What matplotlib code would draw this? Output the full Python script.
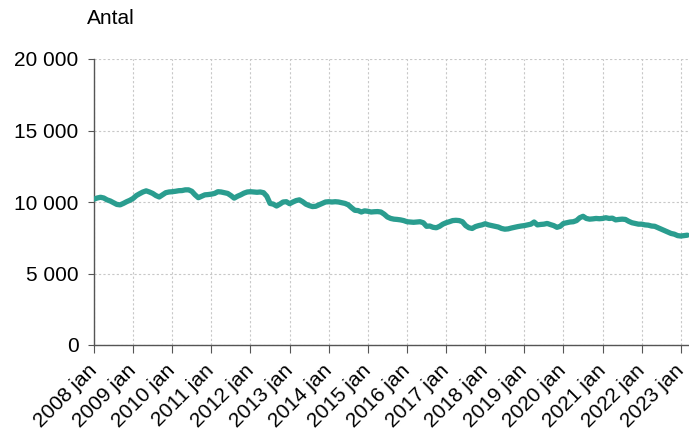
import matplotlib
matplotlib.use("Agg")
import matplotlib.pyplot as plt
import numpy as np

plt.rcParams['font.family'] = ['Liberation Sans', 'DejaVu Sans']

values = [
    10200, 10280, 10330, 10280, 10150, 10070, 9950, 9830, 9800, 9900, 10020, 10120,   # 2008
    10250, 10450, 10580, 10700, 10780, 10700, 10600, 10450, 10350, 10500, 10650, 10700,  # 2009
    10720, 10750, 10790, 10800, 10850, 10850, 10750, 10500, 10300, 10400, 10500, 10520,  # 2010
    10550, 10600, 10720, 10700, 10650, 10600, 10450, 10270, 10400, 10500, 10620, 10700,  # 2011
    10720, 10700, 10680, 10700, 10650, 10400, 9900, 9850, 9720, 9850, 10000, 10020,     # 2012
    9880, 10000, 10100, 10150, 10020, 9850, 9750, 9680, 9700, 9800, 9900, 10000,       # 2013
    10020, 10000, 10020, 10000, 9950, 9900, 9800, 9600, 9420, 9400, 9300, 9380,        # 2014
    9350, 9300, 9320, 9330, 9300, 9150, 8950, 8850, 8800, 8780, 8750, 8700,            # 2015
    8620, 8600, 8580, 8600, 8620, 8550, 8300, 8320, 8230, 8200, 8300, 8450,            # 2016
    8550, 8620, 8700, 8720, 8700, 8620, 8350, 8200, 8150, 8280, 8350, 8400,            # 2017
    8480, 8400, 8350, 8300, 8250, 8150, 8100, 8120, 8180, 8230, 8280, 8320,            # 2018
    8350, 8400, 8450, 8600, 8400, 8430, 8450, 8500, 8420, 8350, 8230, 8300,            # 2019
    8500, 8550, 8600, 8620, 8700, 8900, 9000, 8850, 8800, 8820, 8850, 8830,            # 2020
    8850, 8900, 8850, 8870, 8750, 8780, 8800, 8780, 8650, 8550, 8500, 8450,            # 2021
    8450, 8400, 8380, 8320, 8300, 8200, 8100, 8000, 7900, 7800, 7750, 7650,            # 2022
    7620, 7650, 7680,                                                                  # 2023
]
tick_years = list(range(2008, 2024))
tick_labels = [f"{y} jan" for y in tick_years]
y_ticks = [0, 5000, 10000, 15000, 20000]
y_labels = ["0", "5 000", "10 000", "15 000", "20 000"]

months = np.arange(len(values))

fig = plt.figure(figsize=(6.89, 4.37), dpi=100)
ax = fig.add_axes([94/689, 1 - 345/437, 1 - 94/689, (345 - 59)/437])

ax.plot(months, values, color='#2a9d8f', lw=3.8, solid_capstyle='round', solid_joinstyle='round', zorder=3)

ax.set_ylim(0, 20000)
ax.set_xlim(0, len(values) - 0.5)
ax.set_yticks(y_ticks)
ax.set_yticklabels(y_labels)
ax.set_xticks([12 * (y - 2008) for y in tick_years])
ax.set_xticklabels(tick_labels, rotation=45, ha='right', va='center', rotation_mode='anchor')

ax.grid(True, color='#c8c8c8', linestyle=(0, (2, 2)), linewidth=0.8, zorder=0)
for s in ['top', 'right']:
    ax.spines[s].set_visible(False)
for s in ['left', 'bottom']:
    ax.spines[s].set_color('#555555')
    ax.spines[s].set_linewidth(1.0)
ax.tick_params(axis='both', labelsize=15, colors='#555555', labelcolor='black')
ax.tick_params(axis='x', length=6, pad=10)
ax.tick_params(axis='y', length=4, pad=7)

fig.text(87/689, 1 - 18/437, "Antal", fontsize=15, ha='left', va='center')

fig.savefig("out.png", dpi=100)
